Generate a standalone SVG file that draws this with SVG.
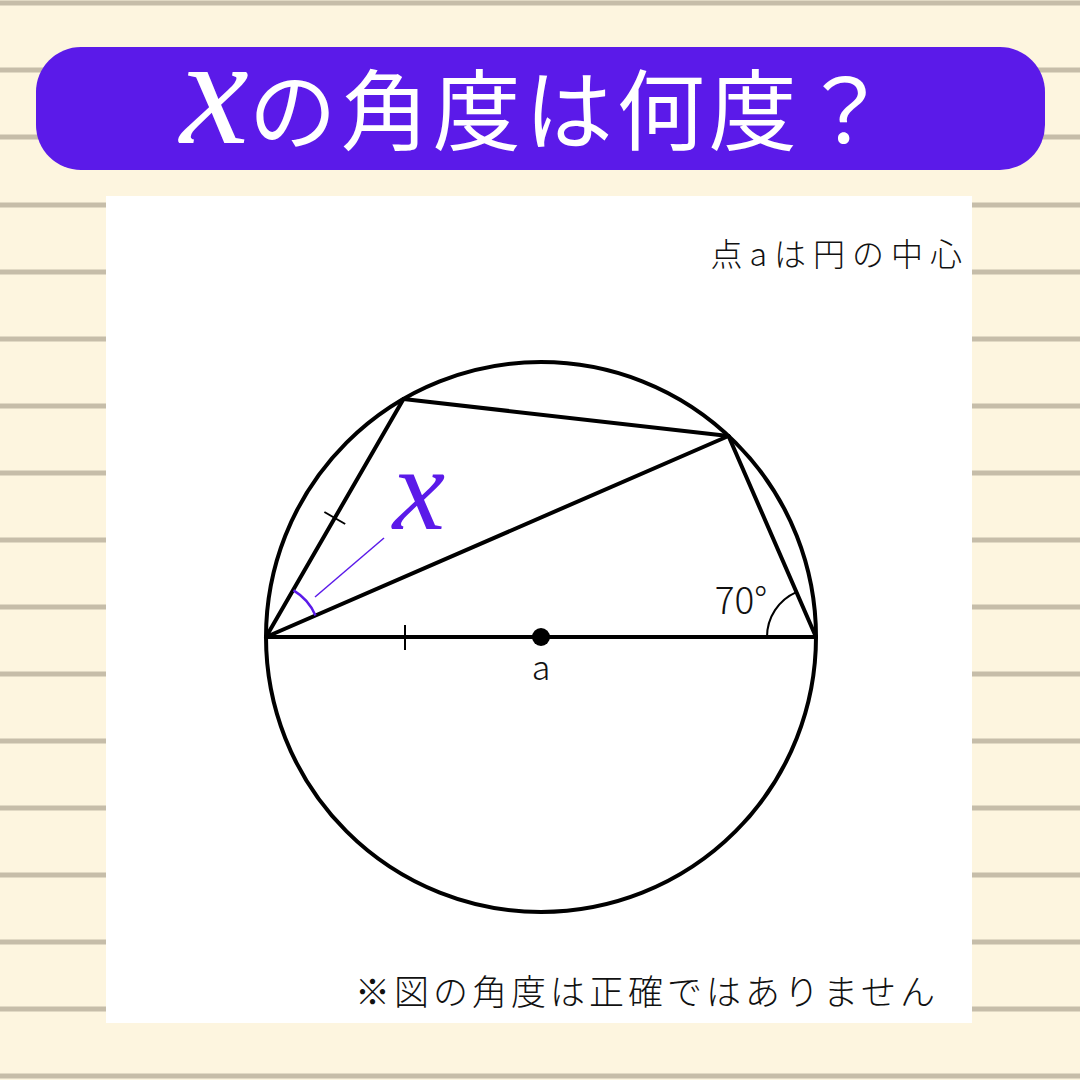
<svg xmlns="http://www.w3.org/2000/svg" width="1080" height="1080" viewBox="0 0 1080 1080">
<style>
.rule{stroke:#C6BDA9;stroke-width:5}
.geo{stroke:#000;stroke-width:4;fill:none;stroke-linecap:round;stroke-linejoin:round}
.tick{stroke:#000;stroke-width:2}
.jp{font-family:"Noto Sans CJK JP","Noto Sans",sans-serif;font-weight:300;fill:#111}
.xl{font-family:"Liberation Serif",serif;font-style:italic}
</style>
<rect width="1080" height="1080" fill="#FDF5DF"/>
<g id="rules">
<line class="rule" x1="0" y1="3" x2="1080" y2="3"/>
<line class="rule" x1="0" y1="70" x2="1080" y2="70"/>
<line class="rule" x1="0" y1="137" x2="1080" y2="137"/>
<line class="rule" x1="0" y1="205" x2="1080" y2="205"/>
<line class="rule" x1="0" y1="272" x2="1080" y2="272"/>
<line class="rule" x1="0" y1="339" x2="1080" y2="339"/>
<line class="rule" x1="0" y1="406" x2="1080" y2="406"/>
<line class="rule" x1="0" y1="473" x2="1080" y2="473"/>
<line class="rule" x1="0" y1="540" x2="1080" y2="540"/>
<line class="rule" x1="0" y1="607" x2="1080" y2="607"/>
<line class="rule" x1="0" y1="674" x2="1080" y2="674"/>
<line class="rule" x1="0" y1="741" x2="1080" y2="741"/>
<line class="rule" x1="0" y1="808" x2="1080" y2="808"/>
<line class="rule" x1="0" y1="875" x2="1080" y2="875"/>
<line class="rule" x1="0" y1="942" x2="1080" y2="942"/>
<line class="rule" x1="0" y1="1009" x2="1080" y2="1009"/>
<line class="rule" x1="0" y1="1076" x2="1080" y2="1076"/>
</g>
<g id="title">
<rect x="36" y="47" width="1009" height="123" rx="45" fill="#5B1AE9"/>
<text x="180" y="143" fill="#fff" font-family="Noto Sans CJK JP,sans-serif" font-size="88" font-weight="400"><tspan class="xl" font-size="155">x</tspan><tspan letter-spacing="4">の角度は何度？</tspan></text>
</g>
<rect id="panel" x="106" y="196" width="866" height="827" fill="#fff"/>
<text class="jp" x="969" y="266" text-anchor="end" font-size="32" letter-spacing="7">点aは円の中心</text>
<g id="figure">
<circle class="geo" cx="541" cy="637" r="275"/>
<g id="connectors">
<line class="geo" x1="266" y1="637" x2="816" y2="637"/>
<line class="geo" x1="266" y1="637" x2="403.5" y2="399"/>
<line class="geo" x1="403.5" y1="399" x2="728.5" y2="436"/>
<line class="geo" x1="728.5" y1="436" x2="816" y2="637"/>
<line class="geo" x1="266" y1="637" x2="728.5" y2="436"/>
</g>
<line class="tick" x1="405" y1="625" x2="405" y2="650"/>
<line class="tick" x1="324.4" y1="512" x2="345.2" y2="524"/>
<circle cx="541" cy="637" r="9" fill="#000"/>
<path d="M 293.5 590.4 A 54 54 0 0 1 315.5 615.5" fill="none" stroke="#5B1AE9" stroke-width="2.5"/>
<line x1="315" y1="597" x2="384" y2="538" stroke="#5B1AE9" stroke-width="1.5"/>
<text class="xl" x="419" y="529" text-anchor="middle" font-size="118" fill="#5B1AE9">x</text>
<path d="M 767 637 A 49 49 0 0 1 796.4 592.1" fill="none" stroke="#000" stroke-width="2"/>
<text class="jp" x="741" y="614" text-anchor="middle" font-size="37" fill="#222">70°</text>
<text class="jp" x="541" y="680" text-anchor="middle" font-size="34">a</text>
</g>
<text class="jp" x="355" y="1005" font-size="35" letter-spacing="4">※図の角度は正確ではありません</text>
</svg>
